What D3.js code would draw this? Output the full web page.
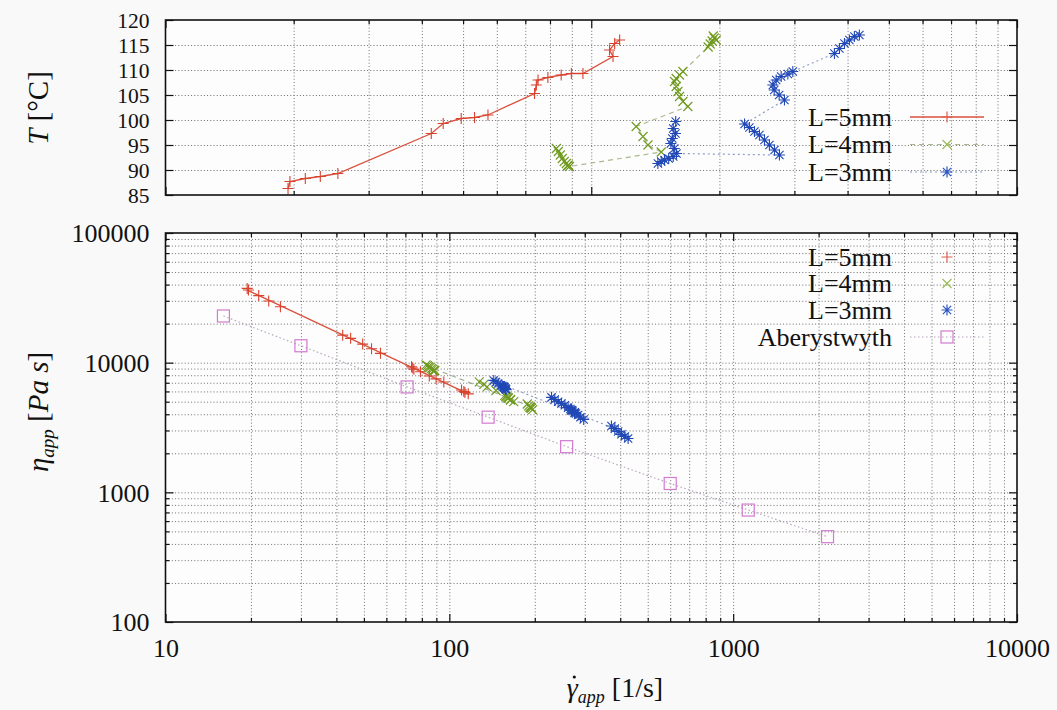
<!DOCTYPE html>
<html><head><meta charset="utf-8">
<script src="https://cdn.jsdelivr.net/npm/d3@7"></script>
<style>
body{margin:0;background:#f9f9f9;}
svg{display:block;}
svg text{font-family:"Liberation Serif","Times New Roman",serif !important;}
</style></head><body>
<svg id="chart" width="1057" height="710"></svg>
<script>
// Die L = 5 mm: apparent shear rate [1/s], melt temperature [°C], apparent viscosity [Pa s]
const redShear = [19.4,19.6,21.3,23.1,25.4,42.1,44.9,49.5,53.2,57.2,73.6,74.3,75.0,79.1,85.0,89.8,95.6,112.5,110.4,113.5,116.6];
const redTemp  = [86.3,87.7,88.3,88.7,89.3,97.3,99.3,100.3,100.5,101.0,105.3,107.0,108.0,108.5,109.0,109.3,109.3,112.7,114.0,115.3,116.0];
const redVisc  = [37400,36300,32900,29900,27000,16300,15400,13900,12800,11800,9300,9100,8900,8500,7900,7500,7100,6000,6150,5900,5750];

// Die L = 4 mm
const greenShear = [82.8,83.7,84.6,85.5,86.4,87.4,88.3,87.9,88.9,146.0,135.9,132.3,127.5,168.6,164.2,161.2,159.8,158.3,156.9,158.3,161.2,164.2,188.2,190.3,192.3,194.5,193.4,196.6];
const greenTemp  = [94.3,93.7,93.0,92.3,91.7,91.3,91.0,90.8,90.7,93.6,95.0,96.7,98.7,102.7,103.7,104.7,105.7,106.7,107.7,108.3,109.0,109.7,114.6,115.2,115.8,116.4,116.8,116.0];
const greenVisc  = [9600,9500,9300,9200,9000,8900,8700,8600,8700,6100,6500,6800,7100,5000,5200,5300,5400,5500,5600,5500,5350,5150,4800,4650,4550,4450,4500,4350];

// Die L = 3 mm
const blueShear = [157.9,155.8,157.7,155.0,153.8,156.7,143.4,146.0,148.6,152.0,155.8,158.6,276.7,269.4,262.1,255.2,248.3,241.7,235.2,229.1,284.3,276.3,269.0,267.0,271.9,279.3,289.6,297.5,372.5,382.8,393.3,404.0,415.0,426.4];
const blueTemp  = [99.7,98.3,97.3,96.3,95.3,94.3,91.3,91.7,92.0,92.3,92.7,93.3,93.0,94.0,95.0,96.0,97.0,97.7,98.5,99.2,104.0,105.0,106.0,107.0,108.0,108.7,109.2,109.7,113.3,114.3,115.3,116.0,116.7,117.0];
const blueVisc  = [6300,6450,6300,6550,6600,6400,7300,7100,6900,6700,6500,6200,4150,4300,4500,4700,4850,5000,5200,5400,3950,4100,4300,4400,4250,4050,3800,3650,3250,3100,2950,2800,2700,2600];

// Reference curve (Aberystwyth)
const aberShear = [16,30,71,137,259,600,1130,2150];
const aberVisc  = [22900,13500,6500,3800,2250,1170,730,455];

// Axis ticks
const tempTicks = [85,90,95,100,105,110,115,120];
const viscTicks = [100,1000,10000,100000];
const shearTicks = [10,100,1000,10000];

const seriesNames = ["L=5mm","L=4mm","L=3mm"];
const refName = "Aberystwyth";

const FONT = '"Liberation Serif","Times New Roman",serif';
const svg = d3.select("#chart");
svg.append("rect").attr("width",1057).attr("height",710).attr("fill","#f9f9f9");

const L = 165.5, R = 1017;
const topY0 = 20, topY1 = 195, botY0 = 233, botY1 = 622;

const xTop = d3.scaleLog().domain([10,1000]).range([L,R]);
const yTop = d3.scaleLinear().domain([85,120]).range([topY1,topY0]);
const xBot = d3.scaleLog().domain([10,10000]).range([L,R]);
const yBot = d3.scaleLog().domain([100,100000]).range([botY1,botY0]);

const isDecade = v => Math.abs(Math.log10(v) - Math.round(Math.log10(v))) < 1e-9;

const gridColor = "#707070";
function grid(g, xs, ys, y0, y1) {
  const xv = xs.ticks().filter(v => v > xs.domain()[0] && v < xs.domain()[1]);
  const yv = (ys.base ? ys.ticks() : tempTicks).filter(v => v > d3.min(ys.domain()) && v < d3.max(ys.domain()));
  g.append("g").call(d3.axisBottom(xs).tickValues(xv).tickSize(-(y1 - y0)).tickFormat(""))
    .attr("transform", `translate(0,${y1})`)
    .call(a => a.select(".domain").remove())
    .selectAll("line").attr("stroke", gridColor).attr("stroke-width", 1).attr("stroke-dasharray", "1,2.2");
  g.append("g").call(d3.axisLeft(ys).tickValues(yv).tickSize(-(R - L)).tickFormat(""))
    .attr("transform", `translate(${L},0)`)
    .call(a => a.select(".domain").remove())
    .selectAll("line").attr("stroke", gridColor).attr("stroke-width", 1).attr("stroke-dasharray", "1,2.2");
}

function styleLabels(sel, px) {
  sel.selectAll("text").style("font-family", FONT).style("font-size", px + "px").attr("fill", "#111");
}

function ticksX(g, xs, y0, y1, labels) {
  const all = xs.ticks();
  const maj = all.filter(isDecade), mn = all.filter(v => !isDecade(v));
  const mk = (axisFn, vals, size, ty, fmt, pad) =>
    g.append("g").attr("transform", `translate(0,${ty})`)
      .call(axisFn(xs).tickValues(vals).tickSize(size).tickPadding(pad || 3).tickFormat(fmt || ""))
      .call(a => a.select(".domain").remove())
      .call(a => a.selectAll("line").attr("stroke", "#111").attr("stroke-width", 1.2));
  mk(d3.axisBottom, mn, -4, y1);
  mk(d3.axisTop, mn, -4, y0);
  const b = mk(d3.axisBottom, maj, -8, y1, labels ? d3.format("d") : "", 17);
  mk(d3.axisTop, maj, -8, y0);
  styleLabels(b, 26);
  b.selectAll("text").attr("dy", "0.71em");
}

function ticksY(g, ys, vals, minors, fmt, px) {
  const mk = (axisFn, v, size, tx, f, pad) =>
    g.append("g").attr("transform", `translate(${tx},0)`)
      .call(axisFn(ys).tickValues(v).tickSize(size).tickPadding(pad || 3).tickFormat(f || ""))
      .call(a => a.select(".domain").remove())
      .call(a => a.selectAll("line").attr("stroke", "#111").attr("stroke-width", 1.2));
  const lab = mk(d3.axisLeft, vals, -8, L, fmt, 16);
  mk(d3.axisRight, vals, -8, R);
  if (minors.length) { mk(d3.axisLeft, minors, -4, L); mk(d3.axisRight, minors, -4, R); }
  styleLabels(lab, px);
  lab.selectAll("text").attr("dy", "0.34em");
}

// Marker shapes
const plus  = s => `M${-s},0H${s}M0,${-s}V${s}`;
const cross = s => `M${-s},${-s}L${s},${s}M${-s},${s}L${s},${-s}`;
const star  = s => plus(s) + cross(s * 0.75);

const styles = [
  { mark: plus(5.5),  color: "#d8432e", line: "#d8503c", dash: null,  width: 1.3 },
  { mark: cross(4.5), color: "#6f9a1e", line: "#a9b88e", dash: "5,4", width: 1.2 },
  { mark: star(5.5),  color: "#2048b6", line: "#8c9bc8", dash: "2,3", width: 1.2 }
];
const legendMarkColors = ["#e0604e", "#9dbb55", "#2b55c0"];

function drawPoints(g, xs, ys, xv, yv, st) {
  g.append("g").selectAll("path").data(xv.map((x, i) => [x, yv[i]])).join("path")
    .attr("d", st.mark).attr("transform", d => `translate(${xs(d[0])},${ys(d[1])})`)
    .attr("fill", "none").attr("stroke", st.color).attr("stroke-width", 1.1);
}

function addText(g, x, y, size, anchor) {
  return g.append("text").attr("x", x).attr("y", y).attr("text-anchor", anchor || "start")
    .style("font-family", FONT).style("font-size", size + "px").attr("fill", "#111");
}

// ---------- Upper panel: temperature vs shear rate ----------
const gt = svg.append("g");
gt.append("rect").attr("x", L).attr("y", topY0).attr("width", R - L).attr("height", topY1 - topY0).attr("fill", "#fdfdfd");
grid(gt, xTop, yTop, topY0, topY1);

const topSeries = [[redShear, redTemp], [greenShear, greenTemp], [blueShear, blueTemp]];
topSeries.forEach(([xv, yv], k) => {
  const st = styles[k];
  const line = d3.line().x(d => xTop(d[0])).y(d => yTop(d[1]));
  gt.append("path").datum(xv.map((x, i) => [x, yv[i]])).attr("d", line)
    .attr("fill", "none").attr("stroke", st.line).attr("stroke-width", st.width)
    .attr("stroke-dasharray", st.dash);
  drawPoints(gt, xTop, yTop, xv, yv, st);
});
ticksX(gt, xTop, topY0, topY1, false);
ticksY(gt, yTop, tempTicks, [], d3.format("d"), 21.5);
gt.append("rect").attr("x", L).attr("y", topY0).attr("width", R - L).attr("height", topY1 - topY0)
  .attr("fill", "none").attr("stroke", "#111").attr("stroke-width", 1.6);

// Upper legend
const lgTopY = [117, 144.5, 172];
seriesNames.forEach((name, k) => {
  const st = styles[k], y = lgTopY[k];
  addText(gt, 892, y, 26, "end").attr("dy", "0.34em").text(name);
  gt.append("line").attr("x1", 910).attr("x2", 984).attr("y1", y).attr("y2", y)
    .attr("stroke", st.line).attr("stroke-width", st.width).attr("stroke-dasharray", st.dash);
  gt.append("path").attr("d", st.mark).attr("transform", `translate(947,${y})`)
    .attr("fill", "none").attr("stroke", legendMarkColors[k]).attr("stroke-width", 1.2);
});

// ---------- Lower panel: viscosity vs shear rate ----------
const gb = svg.append("g");
gb.append("rect").attr("x", L).attr("y", botY0).attr("width", R - L).attr("height", botY1 - botY0).attr("fill", "#fdfdfd");
grid(gb, xBot, yBot, botY0, botY1);

// power-law fit through each data set (least squares in log-log)
function powerFit(xv, yv) {
  const lx = xv.map(Math.log10), ly = yv.map(Math.log10);
  const mx = d3.mean(lx), my = d3.mean(ly);
  const b = d3.sum(lx.map((v, i) => (v - mx) * (ly[i] - my))) / d3.sum(lx.map(v => (v - mx) ** 2));
  const a = my - b * mx;
  return x => Math.pow(10, a + b * Math.log10(x));
}
const botSeries = [[redShear, redVisc], [greenShear, greenVisc], [blueShear, blueVisc]];
const fitStyles = [
  { color: "#d8503c", dash: null, width: 1.3 },
  { color: "#9aa88a", dash: "5,4", width: 1.1 },
  { color: "#8a96c0", dash: "2,3", width: 1.1 }
];
const lineB = d3.line().x(d => xBot(d[0])).y(d => yBot(d[1]));
botSeries.forEach(([xv, yv], k) => {
  const f = powerFit(xv, yv);
  const [x0, x1] = d3.extent(xv);
  gb.append("path").datum([[x0, f(x0)], [x1, f(x1)]]).attr("d", lineB)
    .attr("fill", "none").attr("stroke", fitStyles[k].color).attr("stroke-width", fitStyles[k].width)
    .attr("stroke-dasharray", fitStyles[k].dash);
});
// reference curve
const refColor = "#d27ad0";
gb.append("path").datum(aberShear.map((x, i) => [x, aberVisc[i]])).attr("d", lineB)
  .attr("fill", "none").attr("stroke", "#b9a6bf").attr("stroke-width", 1.2).attr("stroke-dasharray", "1.5,2.5");
gb.append("g").selectAll("rect").data(aberShear.map((x, i) => [x, aberVisc[i]])).join("rect")
  .attr("x", d => xBot(d[0]) - 6).attr("y", d => yBot(d[1]) - 6).attr("width", 12).attr("height", 12)
  .attr("fill", "none").attr("stroke", refColor).attr("stroke-width", 1.2);

botSeries.forEach(([xv, yv], k) => drawPoints(gb, xBot, yBot, xv, yv, styles[k]));

ticksX(gb, xBot, botY0, botY1, true);
ticksY(gb, yBot, viscTicks, yBot.ticks().filter(v => !isDecade(v)), d3.format("d"), 26);
gb.append("rect").attr("x", L).attr("y", botY0).attr("width", R - L).attr("height", botY1 - botY0)
  .attr("fill", "none").attr("stroke", "#111").attr("stroke-width", 1.6);

// Lower legend
const lgBotY = [257, 283.5, 310, 337];
seriesNames.concat([refName]).forEach((name, k) => {
  const y = lgBotY[k];
  addText(gb, 892, y, 26, "end").attr("dy", "0.34em").text(name);
  if (k < 3) {
    gb.append("path").attr("d", styles[k].mark).attr("transform", `translate(947,${y})`)
      .attr("fill", "none").attr("stroke", legendMarkColors[k]).attr("stroke-width", 1.2);
  } else {
    gb.append("line").attr("x1", 910).attr("x2", 984).attr("y1", y).attr("y2", y)
      .attr("stroke", "#b9a6bf").attr("stroke-width", 1.2).attr("stroke-dasharray", "1.5,2.5");
    gb.append("rect").attr("x", 941).attr("y", y - 6).attr("width", 12).attr("height", 12)
      .attr("fill", "none").attr("stroke", refColor).attr("stroke-width", 1.2);
  }
});

// ---------- Axis titles ----------
const t1 = svg.append("text").attr("transform", "translate(48,108) rotate(-90)")
  .attr("text-anchor", "middle").style("font-family", FONT).style("font-size", "29px").attr("fill", "#111");
t1.append("tspan").attr("font-style", "italic").text("T");
t1.append("tspan").text(" [°C]");

const t2 = svg.append("text").attr("transform", "translate(48,412) rotate(-90)")
  .attr("text-anchor", "middle").style("font-family", FONT).style("font-size", "29px").attr("fill", "#111");
t2.append("tspan").attr("font-style", "italic").text("η");
t2.append("tspan").attr("font-style", "italic").style("font-size", "19px").attr("dy", 6).text("app");
t2.append("tspan").attr("dy", -6).text(" [");
t2.append("tspan").attr("font-style", "italic").text("Pa s");
t2.append("tspan").text("]");

// shear-rate title: gamma with an overdot, subscript, unit
const t3 = svg.append("text").attr("transform", "translate(615,697)")
  .attr("text-anchor", "middle").style("font-family", FONT).style("font-size", "28px").attr("fill", "#111");
t3.append("tspan").attr("font-style", "italic").text("γ");
t3.append("tspan").attr("font-style", "italic").style("font-size", "18px").attr("dy", 6).text("app");
t3.append("tspan").attr("dy", -6).text("  [1/s]");
const bb = t3.node().getBBox();
svg.append("circle").attr("cx", 615 - bb.width / 2 + 7.5).attr("cy", 677).attr("r", 1.6).attr("fill", "#111");
</script>
</body></html>
